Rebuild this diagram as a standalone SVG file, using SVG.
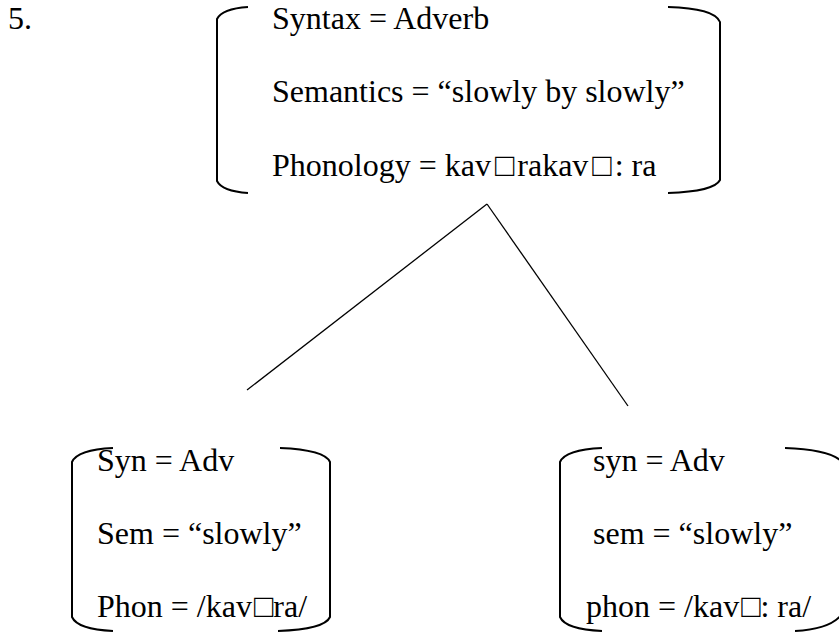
<svg xmlns="http://www.w3.org/2000/svg" width="839" height="632" viewBox="0 0 839 632">
<style>
text{font-family:"Liberation Serif","Times New Roman",serif;font-size:32px;fill:#000}
.br{fill:none;stroke:#000;stroke-width:2}
.ln{stroke:#000;stroke-width:1.3}
</style>
<rect width="839" height="632" fill="#fff"/>
<text x="8" y="29">5.</text>
<g id="top">
<path class="br" d="M248,7 C233,8 221,11 217,19 L217,181 C221,189 233,192 248,193"/>
<path class="br" d="M668,7 C698,8 716,12 720,22 L720,180 C716,188 698,192 668,193"/>
<text x="272" y="29">Syntax = Adverb</text>
<text x="272" y="102">Semantics = “slowly by slowly”</text>
<text x="272" y="176">Phonology = kav<tspan dx="4">□</tspan><tspan dx="3">rakav</tspan><tspan dx="4">□</tspan><tspan dx="3">: ra</tspan></text>
</g>
<g id="connectors">
<line class="ln" x1="487" y1="204" x2="247" y2="390"/>
<line class="ln" x1="487" y1="204" x2="628" y2="406"/>
</g>
<g id="left">
<path class="br" d="M113,448 C92,449 76,453 72,462 L72,617 C76,626 92,630 113,631"/>
<path class="br" d="M280,448 C305,449 326,453 330,462 L330,617 C326,626 305,630 278,631"/>
<text x="97" y="471">Syn = Adv</text>
<text x="97" y="544">Sem = “slowly”</text>
<text x="97" y="617">Phon = /kav<tspan dx="2">□</tspan>ra/</text>
</g>
<g id="right">
<path class="br" d="M602,448 C580,449 564,453 560,462 L560,617 C564,626 580,630 602,631"/>
<path class="br" d="M785,448 C812,449 834,453 842,462 M842,614 C834,625 815,630 795,631"/>
<text x="593" y="471">syn = Adv</text>
<text x="593" y="544">sem = “slowly”</text>
<text x="586" y="617">phon = /kav<tspan dx="2">□</tspan>: ra/</text>
</g>
</svg>
